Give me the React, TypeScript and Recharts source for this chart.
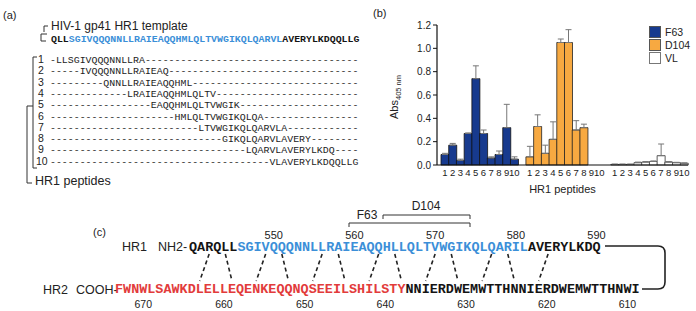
import React from "react";
import { Bar, Cell, XAxis, YAxis, BarChart, ErrorBar, Label } from "recharts";

// ---- panel (b) data ----
const peptideLabels = ["1", "2", "3", "4", "5", "6", "7", "8", "9", "10"];
const f63Values = [0.09, 0.17, 0.04, 0.27, 0.74, 0.27, 0.06, 0.09, 0.32, 0.05];
const f63Errors = [0.01, 0.015, 0.01, 0.005, 0.11, 0.03, 0.01, 0.03, 0.2, 0.02];
const d104Values = [0.07, 0.33, 0.1, 0.22, 1.05, 1.05, 0.3, 0.32, 0, 0];
const d104Errors = [0.09, 0.1, 0.07, 0.15, 0.03, 0.11, 0.08, 0.03, 0.09, 0.04];
const vlValues = [0.005, 0.005, 0.005, 0.02, 0.025, 0.03, 0.08, 0.025, 0.02, 0.015];
const vlErrors = [0.003, 0.003, 0.003, 0.005, 0.005, 0.005, 0.1, 0.005, 0.003, 0.003];
const yTicks = [0, 0.2, 0.4, 0.6, 0.8, 1.0, 1.2];

const groups = [
  { name: "F63", values: f63Values, errors: f63Errors, fill: "#173a8e", stroke: "#111" },
  { name: "D104", values: d104Values, errors: d104Errors, fill: "#f7a941", stroke: "#222" },
  { name: "VL", values: vlValues, errors: vlErrors, fill: "#ffffff", stroke: "#333" },
];

// ---- panel (a) data ----
const templatePre = "QLL";
const templateCore = "SGIVQQQNNLLRAIEAQQHMLQLTVWGIKQLQARVL";
const templatePost = "AVERYLKDQQLLG";
const peptideOffsets = [1, 5, 9, 13, 17, 21, 25, 29, 33, 37];
const peptideSeqs = [
  "LLSGIVQQQNNLLRA",
  "IVQQQNNLLRAIEAQ",
  "QNNLLRAIEAQQHML",
  "LRAIEAQQHMLQLTV",
  "EAQQHMLQLTVWGIK",
  "HMLQLTVWGIKQLQA",
  "LTVWGIKQLQARVLA",
  "GIKQLQARVLAVERY",
  "LQARVLAVERYLKDQ",
  "VLAVERYLKDQQLLG",
];

// ---- panel (c) data ----
const hr1Pre = "QARQLL";
const hr1Core = "SGIVQQQNNLLRAIEAQQHLLQLTVWGIKQLQARIL";
const hr1Post = "AVERYLKDQ";
const hr2Red = "FWNWLSAWKDLELLEQENKEQQNQSEEILSHILSTY";
const hr2Black = "NNIERDWEMWTTHNNIERDWEMWTTHNWI";
const hr1Numbers = [550, 560, 570, 580, 590];
const hr2Numbers = [670, 660, 650, 640, 630, 620, 610];
const contactTop = [2, 4, 9, 11, 16, 18, 23, 25, 30, 32, 37, 39, 44];
const contactBottom = [10, 14, 17, 21, 24, 28, 31, 35, 38, 42, 45, 49, 52];

const SANS = "'Liberation Sans', Arial, Helvetica, sans-serif";
const MONO = "'Liberation Mono', 'Courier New', monospace";
const BLUE = "#3b8fd8";
const RED = "#e23b3b";
const INK = "#141414";

const chartData: any[] = [];
groups.forEach((g, gi) => {
  if (gi > 0) chartData.push({ key: `gap${gi}`, label: "", value: null, err: null });
  g.values.forEach((v, i) => {
    chartData.push({
      key: `${g.name}-${i}`,
      label: peptideLabels[i],
      value: v,
      err: [0, g.errors[i]],
      fill: g.fill,
      stroke: g.stroke,
    });
  });
});

const YTitle = () => (
  <text
    transform="translate(28,97) rotate(-90)"
    textAnchor="middle"
    fontFamily={SANS}
    fontSize={11}
    fill="#222"
  >
    Abs
    <tspan fontSize={7.5} dy={3}>
      405 nm
    </tspan>
  </text>
);

const BarPanel = () => (
  <div style={{ position: "absolute", left: 370, top: 0, width: 326, height: 200 }}>
    <BarChart
      width={326}
      height={200}
      data={chartData}
      margin={{ top: 25, right: 8, left: 0, bottom: 5 }}
      barCategoryGap={0}
    >
      <XAxis
        dataKey="key"
        interval={0}
        tickLine={false}
        tickSize={2}
        height={30}
        padding={{ left: 4, right: 0 }}
        axisLine={{ stroke: "#111", strokeWidth: 1.2 }}
        tick={{ fontSize: 9.5, fill: "#222", fontFamily: SANS }}
        tickFormatter={(k: string) => chartData.find((d) => d.key === k)?.label ?? ""}
      >
        <Label
          value="HR1 peptides"
          position="insideBottom"
          offset={2}
          style={{ fontSize: 11, fill: "#222", fontFamily: SANS }}
        />
      </XAxis>
      <YAxis
        width={67}
        domain={[0, 1.2]}
        ticks={yTicks}
        interval={0}
        tickSize={4}
        tickFormatter={(v: number) => v.toFixed(1)}
        axisLine={{ stroke: "#111", strokeWidth: 1.2 }}
        tickLine={{ stroke: "#111" }}
        tick={{ fontSize: 10, fill: "#222", fontFamily: SANS }}
        label={<Label content={() => <YTitle />} />}
      />
      <Bar dataKey="value" isAnimationActive={false} strokeWidth={0.8}>
        {chartData.map((d) => (
          <Cell key={d.key} fill={d.fill || "none"} stroke={d.stroke || "none"} />
        ))}
        <ErrorBar dataKey="err" width={3} stroke="#777" strokeWidth={1} direction="y" isAnimationActive={false} />
      </Bar>
    </BarChart>
    <div style={{ position: "absolute", left: 279, top: 25, fontFamily: SANS, fontSize: 10.5, color: "#222" }}>
      {groups.map((g) => (
        <div key={g.name} style={{ display: "flex", alignItems: "center", height: 13 }}>
          <div
            style={{
              width: 10,
              height: 10,
              background: g.fill,
              border: `1px solid ${g.name === "VL" ? "#777" : "#555"}`,
              marginRight: 4,
            }}
          />
          {g.name}
        </div>
      ))}
    </div>
    <div style={{ position: "absolute", left: 3, top: 7, fontFamily: SANS, fontSize: 11, color: "#222" }}>(b)</div>
  </div>
);

// panel (a) sequence layout
const A_X0 = 51;
const A_CW = 5.93;
const A_FS = 9.6;

const seqText = (
  s: string,
  idx: number,
  y: number,
  color: string,
  x0: number,
  cw: number,
  fs: number,
  weight: string = "bold"
) => (
  <text
    key={`${s}-${idx}-${y}`}
    x={x0 + idx * cw}
    y={y}
    textLength={s.length * cw}
    lengthAdjust="spacingAndGlyphs"
    fontFamily={MONO}
    fontWeight={weight}
    fontSize={fs}
    fill={color}
  >
    {s}
  </text>
);

const PanelA = () => {
  const rowY0 = 63;
  const rowStep = 11.3;
  const total = templatePre.length + templateCore.length + templatePost.length;
  return (
    <g>
      <text x={3} y={19} fontFamily={SANS} fontSize={11} fill="#222">(a)</text>
      <text x={51} y={30} fontFamily={SANS} fontSize={12} fill="#222">HIV-1 gp41 HR1 template</text>
      <path d="M48,26 H44 V32" fill="none" stroke="#333" strokeWidth={1} />
      <path d="M41,34 V41 H46 M41,34 H47" fill="none" stroke="#333" strokeWidth={1} />
      {seqText(templatePre, 0, 42, INK, A_X0, A_CW, A_FS)}
      {seqText(templateCore, templatePre.length, 42, BLUE, A_X0, A_CW, A_FS)}
      {seqText(templatePost, templatePre.length + templateCore.length, 42, INK, A_X0, A_CW, A_FS)}
      {/* brackets */}
      <path d="M37,57 H33 V168 H37" fill="none" stroke="#333" strokeWidth={1} />
      <path d="M33,106 H27 V183 H32" fill="none" stroke="#333" strokeWidth={1} />
      {peptideSeqs.map((s, i) => {
        const off = peptideOffsets[i];
        const line = "-".repeat(off) + s + "-".repeat(total - off - s.length);
        const y = rowY0 + i * rowStep;
        return (
          <g key={i}>
            <text x={i === 9 ? 36 : 38} y={y} fontFamily={SANS} fontSize={10.5} fill="#222">
              {i + 1}
            </text>
            {seqText(line, 0, y, "#222", A_X0 - 1, A_CW, A_FS, "normal")}
          </g>
        );
      })}
      <text x={35} y={185} fontFamily={SANS} fontSize={12.5} fill="#222">HR1 peptides</text>
    </g>
  );
};

// panel (c) layout
const H1_X0 = 189;
const H2_X0 = 115;
const C_CW = 8.07;
const C_FS = 13.4;
const H1_Y = 250.5;
const H2_Y = 293;

const PanelC = () => (
  <g>
    <text x={93} y={236} fontFamily={SANS} fontSize={11} fill="#222">(c)</text>
    <text x={122} y={251} fontFamily={SANS} fontSize={12.5} fill="#222">HR1</text>
    <text x={158} y={251} fontFamily={SANS} fontSize={12.5} fill="#222">NH2-</text>
    <text x={43} y={294} fontFamily={SANS} fontSize={12.5} fill="#222">HR2</text>
    <text x={76} y={294} fontFamily={SANS} fontSize={12.5} fill="#222">COOH-</text>
    {seqText(hr1Pre, 0, H1_Y, INK, H1_X0, C_CW, C_FS)}
    {seqText(hr1Core, hr1Pre.length, H1_Y, BLUE, H1_X0, C_CW, C_FS)}
    {seqText(hr1Post, hr1Pre.length + hr1Core.length, H1_Y, INK, H1_X0, C_CW, C_FS)}
    {seqText(hr2Red, 0, H2_Y, RED, H2_X0, C_CW, C_FS)}
    {seqText(hr2Black, hr2Red.length, H2_Y, INK, H2_X0, C_CW, C_FS)}
    {hr1Numbers.map((n, i) => (
      <text key={n} x={H1_X0 + (10 + i * 10 + 0.5) * C_CW} y={239} textAnchor="middle" fontFamily={SANS} fontSize={11} fill="#222">
        {n}
      </text>
    ))}
    {hr2Numbers.map((n, i) => (
      <text key={n} x={H2_X0 + (3.5 + i * 10) * C_CW} y={307.5} textAnchor="middle" fontFamily={SANS} fontSize={10.5} fill="#222">
        {n}
      </text>
    ))}
    {contactTop.map((t, i) => (
      <line
        key={i}
        x1={H1_X0 + (t + 0.5) * C_CW}
        y1={254}
        x2={H2_X0 + (contactBottom[i] + 0.5) * C_CW}
        y2={281}
        stroke="#222"
        strokeWidth={1.6}
        strokeDasharray="4 3"
      />
    ))}
    {/* F63 / D104 spans */}
    <path d="M349,227 V223 H470 V227" fill="none" stroke="#333" strokeWidth={1} />
    <path d="M383,219 V215 H470 V219" fill="none" stroke="#333" strokeWidth={1} />
    <text x={367} y={219} textAnchor="middle" fontFamily={SANS} fontSize={12} fill="#222">F63</text>
    <text x={426} y={210} textAnchor="middle" fontFamily={SANS} fontSize={12} fill="#222">D104</text>
    {/* loop connector */}
    <path d="M605,246 H658 Q665,246 665,253 V282 Q665,289 658,289 H642" fill="none" stroke="#222" strokeWidth={1.6} />
  </g>
);

export default function App() {
  return (
    <div style={{ position: "fixed", left: 0, top: 0, width: 696, height: 311, background: "#fff", overflow: "hidden" }}>
      <svg width={696} height={311} style={{ position: "absolute", left: 0, top: 0 }}>
        <PanelA />
        <PanelC />
      </svg>
      <BarPanel />
    </div>
  );
}
